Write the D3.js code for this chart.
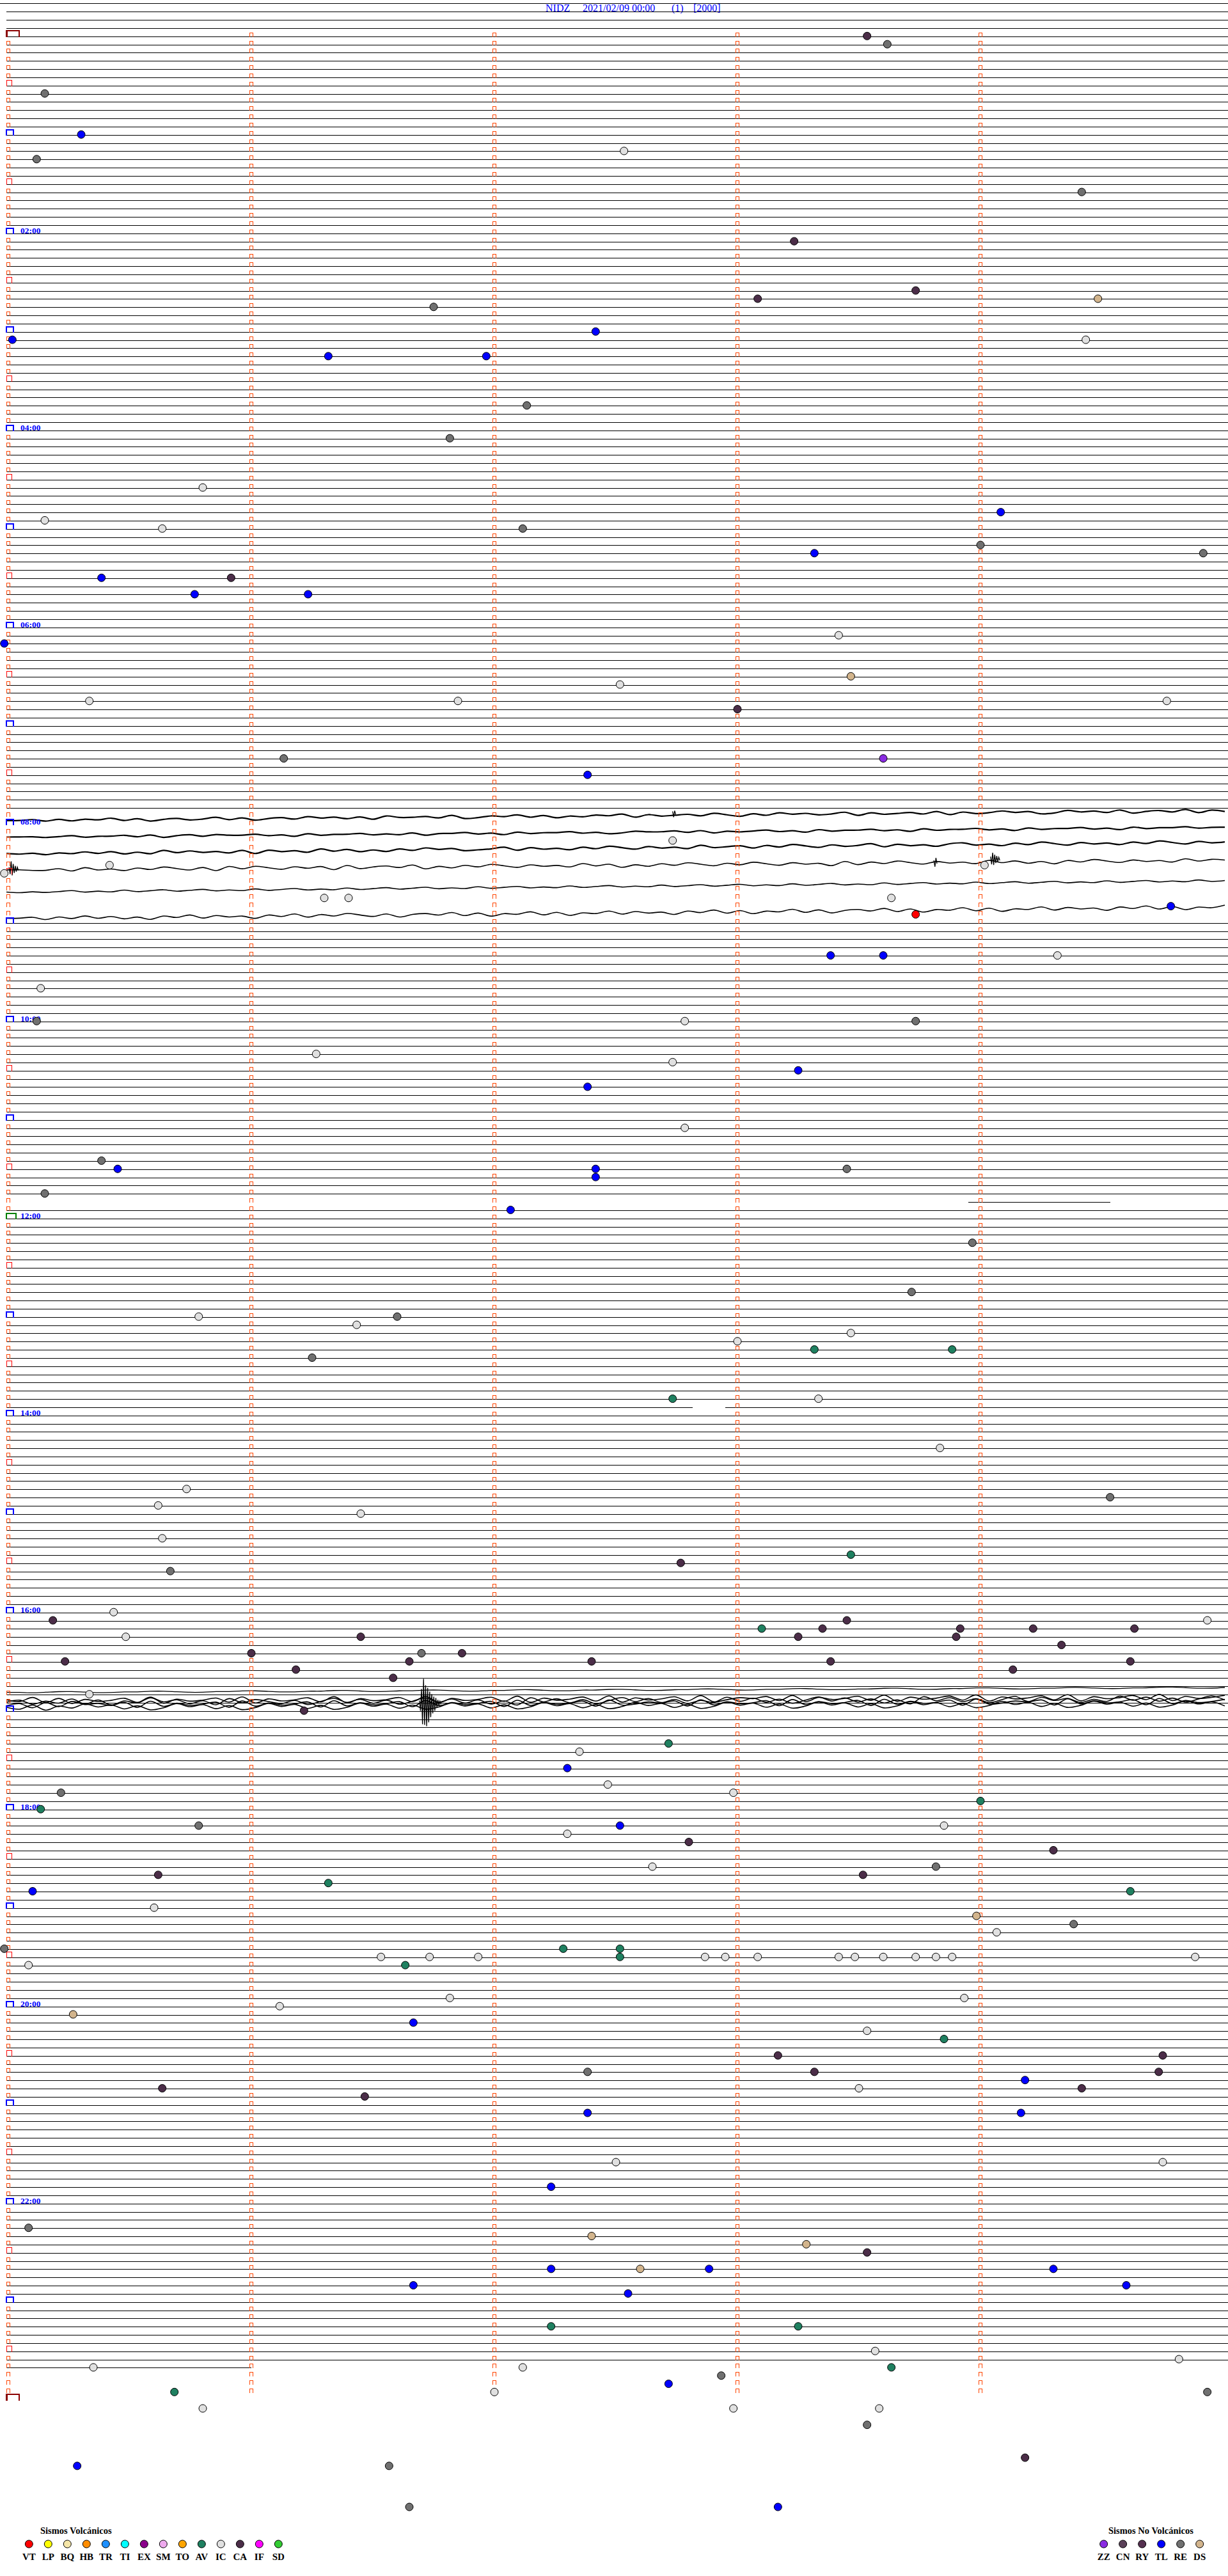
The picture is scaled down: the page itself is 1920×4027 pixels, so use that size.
<!DOCTYPE html>
<html><head><meta charset="utf-8">
<script src="https://cdn.jsdelivr.net/npm/d3@7"></script>
<style>body{margin:0;background:#fff}svg{display:block}</style>
</head><body>
<svg id="c" width="1920" height="4027"></svg>
<script>
// ---------------- DATA ----------------
const titleParts = ["NIDZ", "2021/02/09 00:00", "(1)", "[2000]"];
const rowsPerDay = 288;            // 5-minute rows
const firstTraceRow = -4;
const lastTraceRow = 284;          // partial row
const lastTraceSec = 60;
const hourLabels = ["02:00","04:00","06:00","08:00","10:00","12:00","14:00","16:00","18:00","20:00","22:00"];
const tickSeconds = [60, 120, 180, 240];

const volcTypes  = ["VT","LP","BQ","HB","TR","TI","EX","SM","TO","AV","IC","CA","IF","SD"];
const volcColors = ["#ff0000","#ffff00","#f5e6a8","#ff8c00","#1e90ff","#00ffff","#8b008b","#eeaaee","#ffa500","#1f8060","#e0e0e0","#4b2d48","#ff00ff","#33cc33"];
const nvTypes    = ["ZZ","CN","RY","TL","RE","DS"];
const nvColors   = ["#8a2be2","#5a4058","#553050","#0000ff","#707070","#d2b48c"];

// line gaps: [row, fromSec, toSec]
const lineGaps = [[142, -1, 237], [142, 272, 310], [167, 169, 177]];

// events: [row, secondInRow, type]
const events = [
 [0,212,"CA"],[1,217,"RE"],[7,9,"RE"],[12,18,"TL"],[15,7,"RE"],[14,152,"IC"],[19,265,"RE"],
 [25,194,"CA"],[33,105,"RE"],[32,185,"CA"],[31,224,"CA"],[32,269,"DS"],[36,145,"TL"],[37,1,"TL"],
 [39,79,"TL"],[39,118,"TL"],[37,266,"IC"],[45,128,"RE"],[49,109,"RE"],[55,48,"IC"],[59,9,"IC"],
 [60,38,"IC"],[60,127,"RE"],[58,245,"TL"],[62,240,"RE"],[63,199,"TL"],[63,295,"RE"],[66,23,"TL"],
 [66,55,"CA"],[68,46,"TL"],[68,74,"TL"],[73,205,"IC"],[74,-1,"TL"],[78,208,"DS"],[79,151,"IC"],
 [81,20,"IC"],[81,111,"IC"],[81,286,"IC"],[82,180,"CA"],[88,68,"RE"],[88,216,"ZZ"],[90,143,"TL"],
 [98,164,"IC"],[102,-1,"IC"],[101,25,"IC"],[101,241,"IC"],[105,218,"IC"],[107,224,"VT"],[106,287,"TL"],
 [105,78,"IC"],[105,84,"IC"],
 [112,203,"TL"],[112,216,"TL"],[112,259,"IC"],[116,8,"IC"],[120,7,"RE"],[120,167,"IC"],[120,224,"RE"],
 [124,76,"IC"],[125,164,"IC"],[126,195,"TL"],[128,143,"TL"],[133,167,"IC"],[137,23,"RE"],[138,27,"TL"],
 [138,145,"TL"],[138,207,"RE"],[139,145,"TL"],[141,9,"RE"],[143,124,"TL"],[147,238,"RE"],[153,223,"RE"],
 [156,47,"IC"],[156,96,"RE"],[157,86,"IC"],[158,208,"IC"],[159,180,"IC"],[161,75,"RE"],[160,199,"AV"],
 [160,233,"AV"],[166,164,"AV"],[166,200,"IC"],[172,230,"IC"],[177,44,"IC"],[178,272,"RE"],[179,37,"IC"],
 [180,87,"IC"],[183,38,"IC"],[185,208,"AV"],[187,40,"RE"],[186,166,"CA"],[192,26,"IC"],[193,11,"CA"],
 [193,296,"IC"],[195,29,"IC"],[194,186,"AV"],[195,195,"CA"],[194,201,"CA"],[193,207,"CA"],[194,235,"CA"],
 [195,234,"CA"],[194,253,"CA"],[194,278,"CA"],[195,87,"CA"],[196,260,"CA"],[197,60,"CA"],[197,102,"RE"],
 [197,112,"CA"],[198,99,"CA"],[198,14,"CA"],[198,144,"CA"],[198,203,"CA"],[198,277,"CA"],[199,71,"CA"],
 [199,248,"CA"],[200,95,"CA"],[204,73,"CA"],[202,20,"IC"],
 [208,163,"AV"],[211,138,"TL"],[209,141,"IC"],[213,148,"IC"],[214,13,"RE"],[214,179,"IC"],[215,240,"AV"],
 [216,8,"AV"],[218,47,"RE"],[218,151,"TL"],[219,138,"IC"],[218,231,"IC"],[220,168,"CA"],[221,258,"CA"],
 [223,159,"IC"],[224,37,"CA"],[224,211,"CA"],[223,229,"RE"],[225,79,"AV"],[226,6,"TL"],[226,277,"AV"],
 [228,36,"IC"],[229,239,"DS"],[230,263,"RE"],[231,244,"IC"],[233,-1,"RE"],[233,137,"AV"],[233,151,"AV"],
 [234,151,"AV"],[235,5,"IC"],[234,92,"IC"],[235,98,"AV"],[234,104,"IC"],[234,116,"IC"],[234,172,"IC"],
 [234,177,"IC"],[234,185,"IC"],[234,205,"IC"],[234,209,"IC"],[234,216,"IC"],[234,224,"IC"],[234,229,"IC"],
 [234,233,"IC"],[234,293,"IC"],[241,16,"DS"],[240,67,"IC"],[239,109,"IC"],[239,236,"IC"],[242,100,"TL"],
 [243,212,"IC"],[244,231,"AV"],[246,285,"CA"],[246,190,"CA"],[248,143,"RE"],[248,199,"CA"],[248,284,"CA"],
 [249,251,"TL"],[250,38,"CA"],[250,210,"IC"],[250,265,"CA"],[251,88,"CA"],[253,143,"TL"],[253,250,"TL"],
 [259,150,"IC"],[259,285,"IC"],[262,134,"TL"],[267,5,"RE"],[268,144,"DS"],[269,197,"DS"],[270,212,"CA"],
 [272,134,"TL"],[272,156,"DS"],[272,173,"TL"],[272,258,"TL"],[274,100,"TL"],[274,276,"TL"],[275,153,"TL"],
 [279,134,"AV"],[279,195,"AV"],[282,214,"IC"],[284,21,"IC"],[284,127,"IC"],[284,218,"AV"],[283,289,"IC"],
 [285,176,"RE"],[286,163,"TL"],[287,41,"AV"],[287,120,"IC"],[287,296,"RE"],[289,48,"IC"],[289,179,"IC"],
 [289,215,"IC"],[291,212,"RE"],[296,17,"TL"],[296,94,"RE"],[295,251,"CA"],[301,99,"RE"],[301,190,"TL"]
];

// noisy rows around 08:00 (rows 95-107 drawn as waveforms): baseline row at left / right, samples (5 = baseline)
const waveRowsHidden = [95,96,97,98,99,100,101,102,103,104,105,106,107];
const waveTraces = [
 {r0:95.5, r1:94.3, s:"5546464536475465364754635464735546376453647564537465463574635465374654637465354763546375463746"},
 {r0:97.5, r1:96.3, s:"5556546554647546455465746554656475546574655465764554647565465746554657465546574655465746554655"},
 {r0:99.5, r1:98.1, s:"5657564647573646574846573647574635476537465746357465736547463574653746574365746357465746357465"},
 {r0:101.5,r1:100.3,s:"5566473657463574836357464837546385746357465736485746357463574658374635746573647584635746573645"},
 {r0:104.2,r1:102.8,s:"5656546564654654656465465646546546564654656465465646546546564654656465465646546546564654656465"},
 {r0:107.4,r1:106.0,s:"5547463647584637465846374635748546374856374856374658463748563748546374856374856374658463748563"}
];
// overlapping traces near 16:45-17:00
const denseTraces = [
 {r0:201.7, r1:201.1, s:"5565445665544566554456655445665544566554456655445665544566554456655445665544566554456655445665"},
 {r0:202.9, r1:202.5, s:"5374627384615374826357485263748526374859263748526374857263748526374859263748527364857263748526"},
 {r0:203.2, r1:202.8, s:"6483725463827465382746538274653827465382746538276453827465382746538274653827645382746538274653"},
 {r0:202.7, r1:202.3, s:"4627384653728465372846537284653728465372846537284653728645372846537284653728465372846537284653"},
 {r0:203.5, r1:203.1, s:"5738462537486253748625374862537486253748625374862537486253748625374862537486253748625374862537"}
];
// impulsive bursts: [row, startSec, amplitudes(px)]
const bursts = [
 [203.0, 101.5, [4,12,22,33,38,34,28,36,24,30,18,22,14,16,10,12,8,7,5,4,3,2]],
 [101.4, 0.2, [3,8,12,10,8,6,5,4,3,2]],
 [100.5, 228.5, [2,8,6,3]],
 [100.2, 242.5, [4,8,10,9,7,6,5,4,3,2]],
 [94.6, 164, [3,6,4,2]]
];

// ---------------- DRAW ----------------
const svg = d3.select("#c");
const x = d3.scaleLinear().domain([0, 300]).range([13, 1913]);
const y = d3.scaleLinear().domain([0, rowsPerDay]).range([57.3, 57.3 + rowsPerDay * 12.833]);
const pix = v => Math.floor(v) + 0.5;
const serif = "'Liberation Serif','Times New Roman',serif";

// title
const titleX = [853, 911, 1050, 1084];
svg.append("g").selectAll("text").data(titleParts).join("text")
  .attr("x", (d, i) => titleX[i]).attr("y", 18)
  .attr("font-family", serif).attr("font-size", 16).attr("fill", "#0000ff")
  .text(d => d);

// flat trace lines
const hidden = new Set(waveRowsHidden);
const segs = [];
d3.range(firstTraceRow, lastTraceRow + 1).forEach(r => {
  if (hidden.has(r)) return;
  let a = r === firstTraceRow ? x.invert(0) : x.invert(10);
  let b = r === lastTraceRow ? lastTraceSec : x.invert(1920);
  let parts = [[a, b]];
  lineGaps.filter(g => g[0] === r).forEach(g => {
    parts = parts.flatMap(([p, q]) => {
      const out = [];
      if (g[1] > p) out.push([p, Math.min(q, g[1])]);
      if (g[2] < q) out.push([Math.max(p, g[2]), q]);
      return out;
    });
  });
  parts.forEach(([p, q]) => segs.push({r, p, q}));
});
svg.append("g").attr("stroke", "#000").attr("stroke-width", 1).attr("shape-rendering", "crispEdges")
  .selectAll("line").data(segs).join("line")
  .attr("x1", d => x(d.p)).attr("x2", d => x(d.q))
  .attr("y1", d => pix(y(d.r))).attr("y2", d => pix(y(d.r)));

// waveform traces
function tracePath(t, unit) {
  const n = t.s.length;
  const pts = t.s.split("").map((c, i) => {
    const f = i / (n - 1);
    const sec = x.invert(10 + f * 1905);
    return [x(sec), y(t.r0 + (t.r1 - t.r0) * f) + (+c - 5) * unit];
  });
  return d3.line().curve(d3.curveCatmullRom)(pts);
}
const waveWidth = [2.2, 2.2, 2.2, 1.6, 1.6, 1.6];
svg.append("g").attr("fill", "none").attr("stroke", "#000")
  .selectAll("path").data(waveTraces).join("path")
  .attr("stroke-width", (d, i) => waveWidth[i])
  .attr("d", d => tracePath(d, 1.25));
svg.append("g").attr("fill", "none").attr("stroke", "#000")
  .selectAll("path").data(denseTraces).join("path")
  .attr("stroke-width", (d, i) => i === 0 ? 1.3 : 1.6)
  .attr("d", (d, i) => tracePath(d, i === 0 ? 0.9 : 1.6));
svg.append("g").attr("fill", "none").attr("stroke", "#000").attr("stroke-width", 1.3)
  .selectAll("path").data(bursts).join("path")
  .attr("d", b => {
    const x0 = x(b[1]), y0 = y(b[0]);
    return d3.line()(b[2].map((a, i) => [x0 + i * 1.6, y0 + (i % 2 ? a : -a)]));
  });

// time markers
const mk = svg.append("g").attr("fill", "none").attr("shape-rendering", "crispEdges");
function bracket(a, c, t, b, color, w) {
  mk.append("path").attr("d", `M${a},${b}V${t}H${c}V${b}`).attr("stroke", color).attr("stroke-width", w);
}
d3.range(0, rowsPerDay).forEach(r => {
  const yl = Math.floor(y(r));
  tickSeconds.forEach(s => bracket(x(s) - 2.5, x(s) + 2.5, yl - 5.5, yl + 0.5, "#ff4500", 1));
  if (r === 0) bracket(10.25, 30, yl - 9, yl + 0.5, "#8b0000", 2.5);
  else if (r % 12 === 0) {
    if (r === 144) bracket(10, 25, yl - 8, yl + 1, "#008000", 2);
    else bracket(10, 21, yl - 8, yl + 1, "#0000ff", 2);
  } else if (r % 12 === 6) bracket(10.5, 18.5, yl - 8.5, yl + 0.5, "#ff0000", 1);
  else bracket(10.5, 15.5, yl - 5.5, yl + 0.5, "#ff4500", 1);
});
{ const yl = Math.floor(y(rowsPerDay)); bracket(10.25, 30, yl - 10, yl, "#8b0000", 2.5); }

// hour labels
svg.append("g").selectAll("text").data(hourLabels).join("text")
  .attr("x", 32).attr("y", (d, i) => Math.floor(y((i + 1) * 24)) - 0.5)
  .attr("font-family", serif).attr("font-weight", "bold").attr("font-size", 13.5).attr("fill", "#0000ff")
  .text(d => d);

// events
const colorOf = {};
volcTypes.forEach((t, i) => colorOf[t] = volcColors[i]);
nvTypes.forEach((t, i) => colorOf[t] = nvColors[i]);
svg.append("g").selectAll("circle").data(events).join("circle")
  .attr("cx", d => x(d[1])).attr("cy", d => y(d[0]) - 1).attr("r", 6)
  .attr("fill", d => colorOf[d[2]]).attr("stroke", "#000").attr("stroke-width", 1);

// legends
function legend(title, types, colors, x0, tx) {
  const g = svg.append("g");
  g.append("text").attr("x", tx).attr("y", 3961).attr("font-family", serif)
    .attr("font-weight", "bold").attr("font-size", 14.5).attr("fill", "#000").text(title);
  g.selectAll("circle").data(types).join("circle")
    .attr("cx", (d, i) => x0 + 30 * i).attr("cy", 3977).attr("r", 6)
    .attr("fill", (d, i) => colors[i]).attr("stroke", "#000").attr("stroke-width", 1);
  g.selectAll("text.l").data(types).join("text").attr("class", "l")
    .attr("x", (d, i) => x0 + 30 * i).attr("y", 4002).attr("text-anchor", "middle")
    .attr("font-family", serif).attr("font-weight", "bold").attr("font-size", 15).attr("fill", "#000")
    .text(d => d);
}
legend("Sismos Volcánicos", volcTypes, volcColors, 45.3, 63);
legend("Sismos No Volcánicos", nvTypes, nvColors, 1725.7, 1733);
</script>
</body></html>
